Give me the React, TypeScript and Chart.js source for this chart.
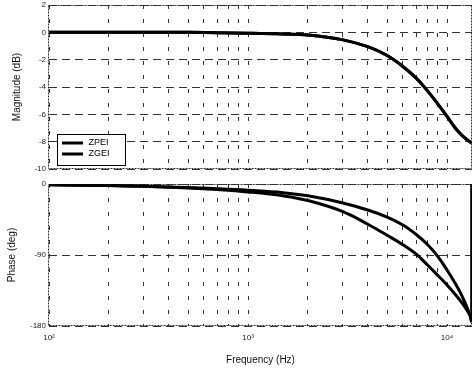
import React, { useEffect, useRef } from "react";
import { Chart, registerables } from "chart.js";
Chart.register(...registerables);

// ---- data ----
const seriesNames = ["ZPEI", "ZGEI"];
const magFreq = [100, 300, 500, 700, 1000, 1500, 2000, 3000, 4000, 5000, 6000, 7000, 8000, 9000, 10000, 11000, 12000, 13000, 13300];
const magnitude = [0, 0, 0, -0.03, -0.06, -0.12, -0.2, -0.55, -1.05, -1.7, -2.5, -3.35, -4.3, -5.25, -6.15, -7.0, -7.6, -8.0, -8.1];
const phaseFreq = [100, 200, 300, 500, 700, 1000, 1500, 2000, 3000, 4000, 5000, 6000, 7000, 8000, 9000, 10000, 11000, 12000, 13000, 13300];
const phaseZPEI = [-1, -2, -3, -4.5, -6, -8, -11, -15, -24, -33, -42, -52, -64, -77, -92, -109, -126, -144, -165, -175];
const phaseZGEI = [-1, -2, -3, -5, -7, -10, -15, -21, -35, -51, -65, -77, -89, -103, -116, -128, -140, -152, -166, -175];
const wrapFreq = [13300, 13300];
const wrapPhase = [-175, 185];
const magTicks = [2, 0, -2, -4, -6, -8, -10];
const phaseTicks = [0, -90, -180];
const freqTicks = [100, 200, 300, 400, 500, 600, 700, 800, 900, 1000, 2000, 3000, 4000, 5000, 6000, 7000, 8000, 9000, 10000];
const decadeLabels: Record<number, string> = { 100: "10\u00B2", 1000: "10\u00B3", 10000: "10\u2074" };
const X_MIN = 100;
const X_MAX = 13350;

const FONT = "'Liberation Sans', Arial, Helvetica, sans-serif";
const GRID = "#333";

const framePlugin = {
  id: "frame",
  beforeDatasetsDraw(chart: any) {
    const { ctx, chartArea: a } = chart;
    ctx.save();
    ctx.strokeStyle = GRID;
    ctx.lineWidth = 1;
    ctx.setLineDash([2, 1]);
    ctx.strokeRect(a.left - 0.5, a.top + 0.5, a.right - a.left, a.bottom - a.top - 1);
    ctx.restore();
  },
};

const boxLegendPlugin = {
  id: "boxLegend",
  afterDatasetsDraw(chart: any) {
    const { ctx, chartArea: a } = chart;
    const x0 = a.left + 8.5;
    const y0 = a.bottom - 34.5;
    const w = 68;
    const h = 31;
    ctx.save();
    ctx.setLineDash([]);
    ctx.fillStyle = "#fff";
    ctx.fillRect(x0, y0, w, h);
    ctx.strokeStyle = "#000";
    ctx.lineWidth = 1;
    ctx.strokeRect(x0, y0, w, h);
    const names = chart.data.datasets.filter((d: any) => d.showInLegend).map((d: any) => d.label);
    names.forEach((n: string, i: number) => {
      const yy = y0 + 8.5 + i * 11;
      ctx.strokeStyle = "#000";
      ctx.lineWidth = 3;
      ctx.beginPath();
      ctx.moveTo(x0 + 4.5, yy);
      ctx.lineTo(x0 + 25.5, yy);
      ctx.stroke();
      ctx.fillStyle = "#000";
      ctx.font = `9px ${FONT}`;
      ctx.textBaseline = "middle";
      ctx.textAlign = "left";
      ctx.fillText(n, x0 + 31, yy);
    });
    ctx.restore();
  },
};

function xScale(showLabels: boolean): any {
  return {
    type: "logarithmic",
    min: X_MIN,
    max: X_MAX,
    afterBuildTicks: (s: any) => {
      s.ticks = freqTicks.map((v) => ({ value: v }));
    },
    ticks: {
      display: showLabels,
      autoSkip: false,
      maxRotation: 0,
      padding: 7,
      font: { size: 8, family: FONT },
      color: "#222",
      callback: (v: any) => decadeLabels[Number(v)] ?? "",
    },
    grid: { color: GRID, lineWidth: 1, drawTicks: false },
    border: { display: false, dash: [4, 10] },
    title: showLabels
      ? { display: true, text: "Frequency (Hz)", font: { size: 10, family: FONT }, color: "#111", padding: { top: 0, bottom: 8 } }
      : { display: false },
    afterFit: (s: any) => {
      s.height = showLabels ? 48 : 0;
      s.paddingLeft = 0;
      s.paddingRight = 0;
    },
  };
}

function yScale(min: number, max: number, ticks: number[], title: string, titlePad: number): any {
  return {
    type: "linear",
    min,
    max,
    afterBuildTicks: (s: any) => {
      s.ticks = ticks.map((v) => ({ value: v }));
    },
    ticks: { autoSkip: false, padding: 3, font: { size: 8, family: FONT }, color: "#222" },
    grid: { color: GRID, lineWidth: 1, drawTicks: false },
    border: { display: false, dash: [8, 5] },
    title: { display: true, text: title, font: { size: 10, family: FONT }, color: "#111", padding: { top: titlePad, bottom: 0 } },
    afterFit: (s: any) => {
      s.width = 49;
      s.paddingTop = 0;
      s.paddingBottom = 0;
    },
  };
}

const lineDs = (label: string, xs: number[], ys: number[], legend: boolean, tension = 0.4): any => ({
  label,
  data: xs.map((x, i) => ({ x, y: ys[i] })),
  borderColor: "#000",
  backgroundColor: "#000",
  borderWidth: 3,
  pointRadius: 0,
  fill: false,
  tension,
  showInLegend: legend,
});

export default function App() {
  const topRef = useRef<HTMLCanvasElement>(null);
  const botRef = useRef<HTMLCanvasElement>(null);

  useEffect(() => {
    const common: any = {
      responsive: false,
      animation: false,
      devicePixelRatio: 1,
      plugins: { legend: { display: false }, tooltip: { enabled: false } },
    };
    const top = new Chart(topRef.current!, {
      type: "line",
      data: {
        datasets: [
          lineDs(seriesNames[0], magFreq, magnitude, true),
          lineDs(seriesNames[1], magFreq, magnitude, true),
        ],
      },
      options: {
        ...common,
        layout: { padding: { top: 5, right: 1, bottom: 7, left: 0 } },
        scales: { x: xScale(false), y: yScale(-10, 2, magTicks, "Magnitude (dB)", 11) },
      },
      plugins: [framePlugin, boxLegendPlugin],
    } as any);
    const bot = new Chart(botRef.current!, {
      type: "line",
      data: {
        datasets: [
          lineDs(seriesNames[0], phaseFreq, phaseZPEI, true),
          lineDs(seriesNames[1], phaseFreq, phaseZGEI, true),
          { ...lineDs("wrap", wrapFreq, wrapPhase, false, 0), clip: 0 },
        ],
      },
      options: {
        ...common,
        layout: { padding: { top: 8, right: 1, bottom: 0, left: 0 } },
        scales: { x: xScale(true), y: yScale(-180, 0, phaseTicks, "Phase (deg)", 6) },
      },
      plugins: [framePlugin],
    } as any);
    return () => {
      top.destroy();
      bot.destroy();
    };
  }, []);

  return (
    <div style={{ position: "absolute", left: 0, top: 0, width: 473, height: 374, background: "#fff", overflow: "hidden" }}>
      <canvas ref={topRef} width={473} height={176} style={{ position: "absolute", left: 0, top: 0, width: 473, height: 176 }} />
      <canvas ref={botRef} width={473} height={198} style={{ position: "absolute", left: 0, top: 176, width: 473, height: 198 }} />
    </div>
  );
}
